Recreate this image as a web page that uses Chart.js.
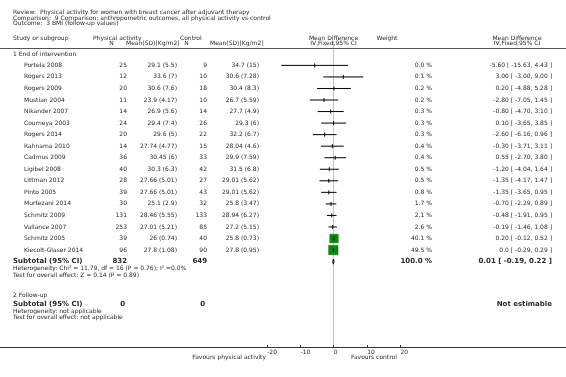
<!DOCTYPE html>
<html>
<head>
<meta charset="utf-8">
<script src="https://cdn.jsdelivr.net/npm/chart.js@4"></script>
<style>
  body { margin: 0; background: #fff; }
  #forest { display: block; }
</style>
</head>
<body>
<canvas id="forest" width="566" height="377"></canvas>
<script>
// studies, subgroup 1 (end of intervention)
const studies = ['Portela 2008', 'Rogers 2013', 'Rogers 2009', 'Mustian 2004', 'Nikander 2007', 'Courneya 2003',
  'Rogers 2014', 'Rahnama 2010', 'Cadmus 2009', 'Ligibel 2008', 'Littman 2012', 'Pinto 2005', 'Murtezani 2014',
  'Schmitz 2009', 'Vallance 2007', 'Schmitz 2005', 'Kiecolt-Glaser 2014'];
const paN = [25, 12, 20, 11, 14, 24, 20, 14, 36, 40, 28, 39, 30, 131, 253, 39, 96];
const paMean = ['29.1 (5.5)', '33.6 (7)', '30.6 (7.6)', '23.9 (4.17)', '26.9 (5.6)', '29.4 (7.4)', '29.6 (5)',
  '27.74 (4.77)', '30.45 (6)', '30.3 (6.3)', '27.66 (5.01)', '27.66 (5.01)', '25.1 (2.9)', '28.46 (5.55)',
  '27.01 (5.21)', '26 (0.74)', '27.8 (1.08)'];
const ctN = [9, 10, 18, 10, 14, 26, 22, 15, 33, 42, 27, 43, 32, 133, 85, 40, 90];
const ctMean = ['34.7 (15)', '30.6 (7.28)', '30.4 (8.3)', '26.7 (5.59)', '27.7 (4.9)', '29.3 (6)', '32.2 (6.7)',
  '28.04 (4.6)', '29.9 (7.59)', '31.5 (6.8)', '29.01 (5.62)', '29.01 (5.62)', '25.8 (3.47)', '28.94 (6.27)',
  '27.2 (5.15)', '25.8 (0.73)', '27.8 (0.95)'];
const md = [-5.60, 3.00, 0.20, -2.80, -0.80, 0.10, -2.60, -0.30, 0.55, -1.20, -1.35, -1.35, -0.70, -0.48, -0.19, 0.20, 0.0];
const ciLo = [-15.63, -3.00, -4.88, -7.05, -4.70, -3.65, -6.16, -3.71, -2.70, -4.04, -4.17, -3.65, -2.29, -1.91, -1.46, -0.12, -0.29];
const ciHi = [4.43, 9.00, 5.28, 1.45, 3.10, 3.85, 0.96, 3.11, 3.80, 1.64, 1.47, 0.95, 0.89, 0.95, 1.08, 0.52, 0.29];
const weight = [0.0, 0.1, 0.2, 0.2, 0.3, 0.3, 0.3, 0.4, 0.4, 0.5, 0.5, 0.8, 1.7, 2.1, 2.6, 40.1, 49.5];

// subtotal
const subN = [832, 649];
const subMd = 0.01, subLo = -0.19, subHi = 0.22;

const xTicks = [-20, -10, 0, 10, 20];

const subRow = studies.length;
const fmt = v => (v === 0 ? '0.0' : v.toFixed(2));

// CI whiskers as one broken line
const ciData = [];
studies.forEach((s, i) => {
  ciData.push({ x: ciLo[i], y: i }, { x: ciHi[i], y: i }, { x: ciHi[i], y: null });
});
const ptData = md.map((m, i) => ({ x: m, y: i }));
const diamond = [
  { x: subLo, y: subRow }, { x: subMd, y: subRow - 0.22 }, { x: subHi, y: subRow },
  { x: subMd, y: subRow + 0.22 }, { x: subLo, y: subRow }
];

const F = '"DejaVu Sans", Verdana, sans-serif';
const TXT = '#2a2a2a';

const tablePlugin = {
  id: 'table',
  beforeDatasetsDraw(chart) {
    const ctx = chart.ctx;
    const x0 = Math.round(chart.scales.x.getPixelForValue(0)) + 0.5;
    ctx.save();
    ctx.strokeStyle = '#c4c4c4';
    ctx.lineWidth = 1;
    ctx.beginPath();
    ctx.moveTo(x0, 41);
    ctx.lineTo(x0, 347);
    ctx.stroke();
    ctx.restore();
  },
  afterDraw(chart) {
    const ctx = chart.ctx;
    const xs = chart.scales.x, ys = chart.scales.y;
    const t = (s, x, y, align, font) => {
      ctx.font = font || ('6px ' + F);
      ctx.textAlign = align || 'left';
      ctx.fillText(s, x, y);
    };
    ctx.save();
    ctx.fillStyle = TXT;
    ctx.textBaseline = 'middle';

    // title block
    t('Review:  Physical activity for women with breast cancer after adjuvant therapy', 13, 12.5);
    t('Comparison:  9 Comparison: anthropometric outcomes, all physical activity vs control', 13, 18);
    t('Outcome:  3 BMI (follow-up values)', 13, 23.5);

    // column headers
    t('Study or subgroup', 13, 38);
    t('Physical activity', 93, 38);
    t('Control', 180, 38);
    t('N', 111.5, 43.5, 'center');
    t('Mean(SD)[Kg/m2]', 126, 43.5);
    t('N', 186.5, 43.5, 'center');
    t('Mean(SD)[Kg/m2]', 210, 43.5);
    t('Mean Difference', 333.5, 38, 'center');
    t('IV,Fixed,95% CI', 333.5, 43.5, 'center');
    t('Weight', 387, 38, 'center');
    t('Mean Difference', 517, 38, 'center');
    t('IV,Fixed,95% CI', 517, 43.5, 'center');

    ctx.strokeStyle = '#555';
    ctx.lineWidth = 1.2;
    ctx.beginPath();
    ctx.moveTo(0, 48.5);
    ctx.lineTo(566, 48.5);
    ctx.stroke();

    // subgroup 1
    t('1 End of intervention', 13, 54.5);
    studies.forEach((s, i) => {
      const y = ys.getPixelForValue(i);
      t(s, 24, y);
      t(String(paN[i]), 127, y, 'right');
      t(paMean[i], 177, y, 'right');
      t(String(ctN[i]), 207, y, 'right');
      t(ctMean[i], 259, y, 'right');
      t(weight[i].toFixed(1) + ' %', 432, y, 'right');
      t(fmt(md[i]) + ' [ ' + fmt(ciLo[i]) + ', ' + fmt(ciHi[i]) + ' ]', 552, y, 'right');
    });
    const bold = 'bold 7px ' + F;
    const ySub = ys.getPixelForValue(subRow);
    t('Subtotal (95% CI)', 13, ySub, 'left', bold);
    t(String(subN[0]), 127, ySub, 'right', bold);
    t(String(subN[1]), 207, ySub, 'right', bold);
    t('100.0 %', 432, ySub, 'right', bold);
    t(fmt(subMd) + ' [ ' + fmt(subLo) + ', ' + fmt(subHi) + ' ]', 552, ySub, 'right', bold);
    t('Heterogeneity: Chi\u00b2 = 11.79, df = 16 (P = 0.76); I\u00b2 =0.0%', 13, ySub + 7);
    t('Test for overall effect: Z = 0.14 (P = 0.89)', 13, ySub + 13.5);

    // subgroup 2
    t('2 Follow-up', 13, 295.5);
    t('Subtotal (95% CI)', 13, 304, 'left', bold);
    t('0', 125, 304, 'right', bold);
    t('0', 205, 304, 'right', bold);
    t('Not estimable', 552, 304, 'right', bold);
    t('Heterogeneity: not applicable', 13, 311);
    t('Test for overall effect: not applicable', 13, 317.5);

    // axis
    ctx.strokeStyle = '#333';
    ctx.lineWidth = 1;
    ctx.beginPath();
    ctx.moveTo(0, 347.5);
    ctx.lineTo(566, 347.5);
    xTicks.forEach(v => {
      const x = Math.round(xs.getPixelForValue(v)) + 0.5;
      ctx.moveTo(x, 345);
      ctx.lineTo(x, 347.5);
    });
    ctx.stroke();
    xTicks.forEach(v => t(String(v), xs.getPixelForValue(v) + 0.5, 352));
    t('Favours physical activity', 266, 357.5, 'right');
    t('Favours control', 351, 357.5);
    ctx.restore();
  }
};

new Chart(document.getElementById('forest'), {
  type: 'scatter',
  data: {
    datasets: [
      {
        type: 'line',
        data: ciData,
        borderColor: '#000',
        borderWidth: 1,
        pointRadius: 0,
        spanGaps: false,
        clip: false,
        order: 4
      },
      {
        data: ptData,
        pointStyle: 'rect',
        pointRadius: c => {
          const r = 6.6 * Math.sqrt(weight[c.dataIndex] / 49.5);
          return r < 2 ? 0 : r;
        },
        backgroundColor: '#0b8a0b',
        borderColor: '#0a6e0a',
        borderWidth: 0.6,
        clip: false,
        order: 3
      },
      {
        data: ptData,
        pointStyle: 'line',
        rotation: 90,
        pointRadius: 2,
        borderColor: '#000',
        borderWidth: 1,
        clip: false,
        order: 2
      },
      {
        type: 'line',
        data: diamond,
        borderColor: '#000',
        backgroundColor: '#000',
        borderWidth: 1,
        pointRadius: 0,
        fill: false,
        clip: false,
        order: 1
      }
    ]
  },
  options: {
    responsive: false,
    animation: false,
    events: [],
    layout: { padding: { left: 266.67, right: 166, top: 0, bottom: 0 } },
    scales: {
      x: { type: 'linear', min: -20, max: 20, display: false },
      y: { type: 'linear', min: -60.5 / 12, max: -60.5 / 12 + 377 / 12, reverse: true, display: false }
    },
    plugins: {
      legend: { display: false },
      tooltip: { enabled: false }
    }
  },
  plugins: [tablePlugin]
});
</script>
</body>
</html>
